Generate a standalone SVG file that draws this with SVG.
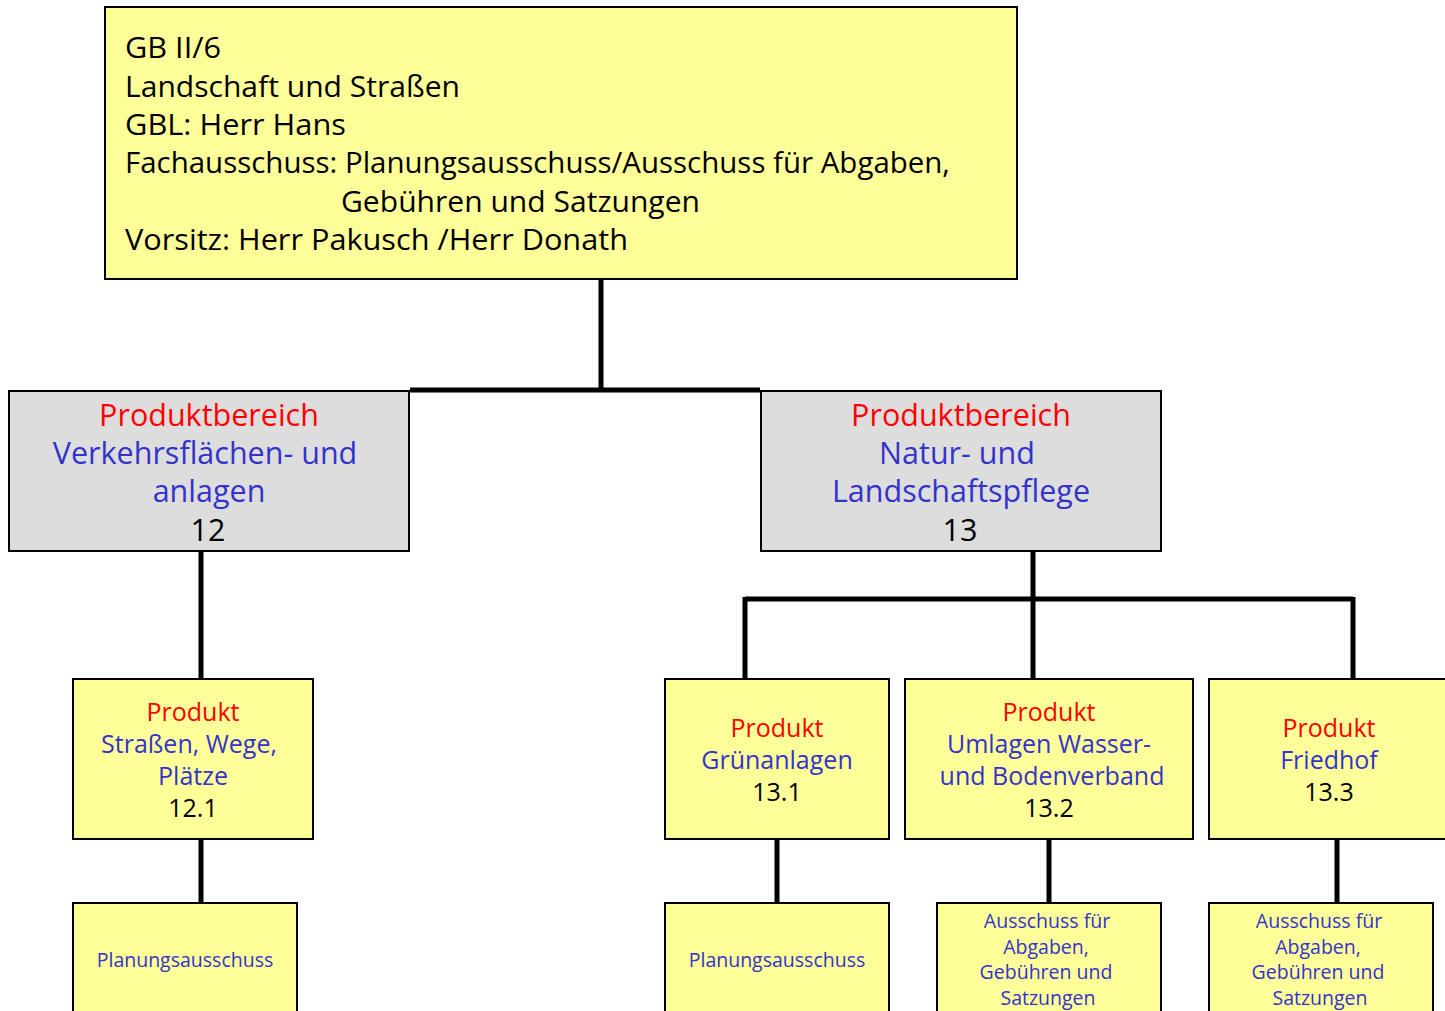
<svg xmlns="http://www.w3.org/2000/svg" width="1445" height="1011" viewBox="0 0 1445 1011">
<style>
.box{stroke:#000;stroke-width:2}
.y{fill:#ffff99}
.g{fill:#dddddd}
text{font-family:"Open Sans","Liberation Sans",sans-serif}
.c{text-anchor:middle}
.r{fill:#ff0000}
.b{fill:#3333cc}
.k{fill:#000}
.t{font-size:29px}
.h{font-size:30.5px}
.p{font-size:25px}
.s{font-size:19.5px}
.line{stroke:#000;stroke-width:5;fill:none}
</style>
<g id="connectors">
<path class="line" d="M601 279V390M410 390H760"/>
<path class="line" d="M201 551V679"/>
<path class="line" d="M1033 551V679M745 599H1353M745 597V679M1353 597V679"/>
<path class="line" d="M201 839V903"/>
<path class="line" d="M777 839V903M1049 839V903M1337 839V903"/>
</g>
<g id="gb">
<rect class="box y" x="105" y="7" width="912" height="272"/>
<text class="t k" x="125" y="58" textLength="96" lengthAdjust="spacingAndGlyphs">GB II/6</text>
<text class="t k" x="125" y="97" textLength="335" lengthAdjust="spacingAndGlyphs">Landschaft und Straßen</text>
<text class="t k" x="125" y="135" textLength="221" lengthAdjust="spacingAndGlyphs">GBL: Herr Hans</text>
<text class="t k" x="125" y="173" textLength="825" lengthAdjust="spacingAndGlyphs">Fachausschuss: Planungsausschuss/Ausschuss für Abgaben,</text>
<text class="t k" x="341" y="212" textLength="359" lengthAdjust="spacingAndGlyphs">Gebühren und Satzungen</text>
<text class="t k" x="125" y="250" textLength="503" lengthAdjust="spacingAndGlyphs">Vorsitz: Herr Pakusch /Herr Donath</text>
</g>
<g id="pb12">
<rect class="box g" x="9" y="391" width="400" height="160"/>
<text class="h c r" x="209" y="426">Produktbereich</text>
<text class="h c b" x="205" y="464">Verkehrsflächen- und</text>
<text class="h c b" x="209" y="502">anlagen</text>
<text class="h c k" x="208" y="541">12</text>
</g>
<g id="pb13">
<rect class="box g" x="761" y="391" width="400" height="160"/>
<text class="h c r" x="961" y="426">Produktbereich</text>
<text class="h c b" x="957" y="464">Natur- und</text>
<text class="h c b" x="961" y="502">Landschaftspflege</text>
<text class="h c k" x="960" y="541">13</text>
</g>
<g id="p121">
<rect class="box y" x="73" y="679" width="240" height="160"/>
<text class="p c r" x="193" y="721">Produkt</text>
<text class="p c b" x="189" y="753">Straßen, Wege,</text>
<text class="p c b" x="193" y="785">Plätze</text>
<text class="p c k" x="193" y="817">12.1</text>
</g>
<g id="p131">
<rect class="box y" x="665" y="679" width="224" height="160"/>
<text class="p c r" x="777" y="737">Produkt</text>
<text class="p c b" x="777" y="769">Grünanlagen</text>
<text class="p c k" x="777" y="801">13.1</text>
</g>
<g id="p132">
<rect class="box y" x="905" y="679" width="288" height="160"/>
<text class="p c r" x="1049" y="721">Produkt</text>
<text class="p c b" x="1049" y="753">Umlagen Wasser-</text>
<text class="p c b" x="1052" y="785">und Bodenverband</text>
<text class="p c k" x="1049" y="817">13.2</text>
</g>
<g id="p133">
<rect class="box y" x="1209" y="679" width="240" height="160"/>
<text class="p c r" x="1329" y="737">Produkt</text>
<text class="p c b" x="1329" y="769">Friedhof</text>
<text class="p c k" x="1329" y="801">13.3</text>
</g>
<g id="a121">
<rect class="box y" x="73" y="903" width="224" height="120"/>
<text class="s c b" x="185" y="967">Planungsausschuss</text>
</g>
<g id="a131">
<rect class="box y" x="665" y="903" width="224" height="120"/>
<text class="s c b" x="777" y="967">Planungsausschuss</text>
</g>
<g id="a132">
<rect class="box y" x="937" y="903" width="224" height="120"/>
<text class="s c b" x="1047" y="928">Ausschuss für</text>
<text class="s c b" x="1046" y="954">Abgaben,</text>
<text class="s c b" x="1046" y="979">Gebühren und</text>
<text class="s c b" x="1048" y="1005">Satzungen</text>
</g>
<g id="a133">
<rect class="box y" x="1209" y="903" width="224" height="120"/>
<text class="s c b" x="1319" y="928">Ausschuss für</text>
<text class="s c b" x="1318" y="954">Abgaben,</text>
<text class="s c b" x="1318" y="979">Gebühren und</text>
<text class="s c b" x="1320" y="1005">Satzungen</text>
</g>
</svg>
